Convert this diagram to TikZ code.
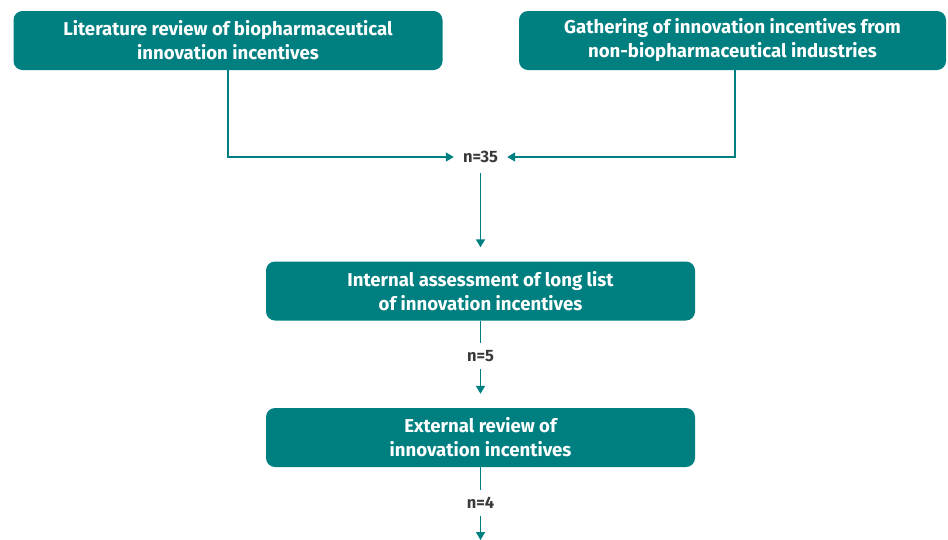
\documentclass[tikz,border=0pt]{standalone}
\usepackage{fontspec}
\setmainfont{Fira Sans}
\usetikzlibrary{arrows.meta}
\definecolor{teal1}{HTML}{007F80}
\definecolor{lbl}{HTML}{3A3A3A}
\begin{document}
\begin{tikzpicture}[x=1pt,y=-1pt,
  box/.style={fill=teal1,rounded corners=9pt,minimum width=429pt,minimum height=59pt,text=white,font=\fontsize{18.6}{24}\selectfont\bfseries,align=center,inner sep=0pt},
  cnt/.style={text=lbl,font=\fontsize{16.5}{18}\selectfont\bfseries,inner sep=1pt},
  conn/.style={draw=teal1,line width=1.6pt},
  arr/.style={conn,-{Triangle[length=8pt,width=9pt]}}]
\useasboundingbox (0,0) rectangle (948,539);
\node[box] (b1) at (228,40.5) {Literature review of biopharmaceutical\\innovation incentives};
\node[box,minimum width=427pt] (b2) at (732.5,40.5) {Gathering of innovation incentives from\\non-biopharmaceutical industries};
\node[cnt] (n35) at (480.5,157) {n=35};
\node[box] (b3) at (480.5,291) {Internal assessment of long list\\of innovation incentives};
\node[cnt] (n5) at (480.5,356) {n=5};
\node[box] (b4) at (480.5,437.5) {External review of\\innovation incentives};
\node[cnt] (n4) at (480.5,503) {n=4};
\coordinate (t5) at (480.5,540);
\draw[arr] (b1.south) |- ([xshift=-8pt]n35.west);
\draw[arr] ([xshift=2.5pt]b2.south) |- ([xshift=8pt]n35.east);
\draw[arr] ([yshift=-9pt]n35.south) -- ([yshift=14pt]b3.north);
\draw[conn] (b3.south) -- ([yshift=6pt]n5.north);
\draw[arr] ([yshift=-6pt]n5.south) -- ([yshift=14pt]b4.north);
\draw[conn] (b4.south) -- ([yshift=6pt]n4.north);
\draw[arr] ([yshift=-6pt]n4.south) -- (t5);
\end{tikzpicture}
\end{document}
